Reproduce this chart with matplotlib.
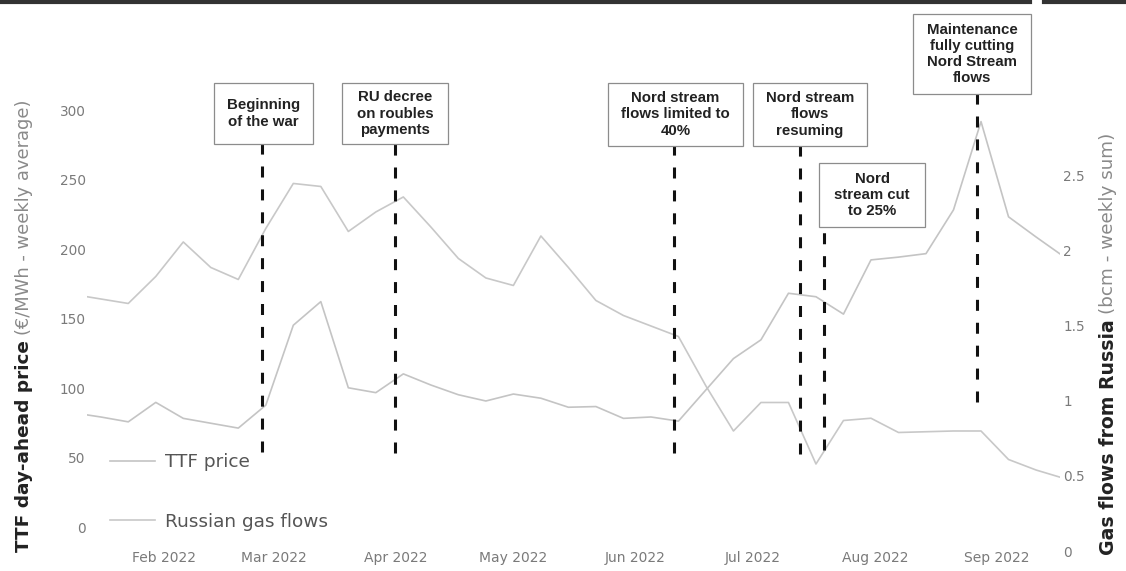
import matplotlib
matplotlib.use("Agg")
import matplotlib.pyplot as plt
import matplotlib.dates as mdates
from matplotlib.lines import Line2D
from matplotlib.patches import Rectangle
import pandas as pd

# weekly series (week ending sundays)
weeks = pd.date_range("2022-01-09", "2022-09-18", freq="7D")

ttf_price = [82.5, 79.5, 76, 90, 78.5, 75, 71.5, 88, 145.5, 162.5, 100.5, 97,
             110.5, 102.5, 95.5, 91, 96, 93, 86.5, 87, 78.5, 79.5, 76.5, 99,
             121.5, 135, 168.5, 166, 153.5, 192.5, 194.5, 197, 228.5, 292,
             223.5, 209, 195]

ru_flows = [1.71, 1.68, 1.65, 1.83, 2.06, 1.89, 1.81, 2.15, 2.45, 2.43, 2.13,
            2.26, 2.36, 2.16, 1.95, 1.82, 1.77, 2.10, 1.89, 1.67, 1.57, 1.50,
            1.43, 1.10, 0.80, 0.99, 0.99, 0.58, 0.87, 0.885, 0.79, 0.795, 0.80,
            0.80, 0.61, 0.54, 0.485]

event_labels = ["Beginning\nof the war",
                "RU decree\non roubles\npayments",
                "Nord stream\nflows limited to\n40%",
                "Nord stream\nflows\nresuming",
                "Nord\nstream cut\nto 25%",
                "Maintenance\nfully cutting\nNord Stream\nflows"]
event_dates = pd.to_datetime(["2022-02-26", "2022-04-01", "2022-06-11",
                              "2022-07-13", "2022-07-19", "2022-08-27"])

left_ticks = [0, 50, 100, 150, 200, 250, 300]
right_ticks = [0, 0.5, 1, 1.5, 2, 2.5]
right_ticklabels = ["0", "0.5", "1", "1.5", "2", "2.5"]

W, H = 1126, 571
fig = plt.figure(figsize=(W / 100, H / 100), dpi=100)


def fx(x):
    return x / W


def fy(y):
    return 1 - y / H


ax = fig.add_axes([fx(87), fy(553), (1060 - 87) / W, (553 - 60) / H])
ax2 = ax.twinx()
ax.set_zorder(ax2.get_zorder() + 1)
ax.patch.set_visible(False)

l1, = ax.plot(weeks, ttf_price, color="#c4c4c4", lw=1.2, label="TTF price")
l2, = ax2.plot(weeks, ru_flows, color="#c8c8c8", lw=1.2, label="Russian gas flows")

start = mdates.date2num(pd.Timestamp("2022-01-16"))
ax.set_xlim(start - 3.5, start + 244.1)
ax.set_ylim(-18.35, 336.3)
ax2.set_ylim(-0.0133, 3.273)

ax.set_yticks(left_ticks)
ax2.set_yticks(right_ticks)
ax2.set_yticklabels(right_ticklabels)
ax.xaxis.set_major_locator(mdates.MonthLocator())
ax.xaxis.set_major_formatter(mdates.DateFormatter("%b %Y"))

for a in (ax, ax2):
    for s in a.spines.values():
        s.set_visible(False)
    a.tick_params(length=0, labelcolor="#7a7a7a", labelsize=9.8)
ax.tick_params(axis="y", pad=1)
ax.tick_params(axis="x", pad=-1.5, labelsize=10)
ax2.tick_params(axis="y", pad=2.5)

# event markers
tops = [275.9, 275.9, 274.5, 274.5, 216.2, 311.9]
bottoms = [54.3, 53.6, 53.6, 52.9, 55.8, 90.3]
ax.vlines(event_dates, bottoms, tops, colors="#111111", lw=2.2,
          linestyles=[(0, (3.6, 3.9))], clip_on=False, zorder=4)

boxes = [(214, 83, 313, 144), (342, 83, 448, 144), (608, 83, 743, 146),
         (753, 83, 867, 146), (819, 163, 925, 227), (913, 14, 1031, 94)]
for (l, t, r, b), txt in zip(boxes, event_labels):
    fig.add_artist(Rectangle((fx(l), fy(b)), (r - l) / W, (b - t) / H,
                             transform=fig.transFigure, facecolor="white",
                             edgecolor="#8c8c8c", lw=0.9, zorder=5))
    fig.text(fx((l + r) / 2), fy((t + b) / 2), txt, ha="center", va="center",
             fontsize=10.8, fontweight="bold", family="Liberation Sans",
             color="#222222", linespacing=1.2, zorder=6)

leg = ax.legend([l1, l2], ["TTF price", "Russian gas flows"], loc="upper left",
                bbox_to_anchor=(fx(110), fy(453)), bbox_transform=fig.transFigure,
                frameon=False, fontsize=13.3, labelcolor="#555555",
                handlelength=2.43, handletextpad=0.54, labelspacing=2.27,
                borderpad=0, borderaxespad=0)

# axis titles: bold part + grey part
renderer = fig.canvas.get_renderer()


def two_part_label(x, y0, bold, rest, size):
    t1 = fig.text(fx(x), fy(y0), bold, rotation=90, ha="center", va="bottom",
                  fontsize=size, fontweight="bold", color="#222222")
    bb = t1.get_window_extent(renderer)
    fig.text(fx(x), (bb.y1 + 5) / H, rest, rotation=90, ha="center",
             va="bottom", fontsize=size - 0.4, color="#8a8a8a")


two_part_label(24, 552, "TTF day-ahead price", "(€/MWh - weekly average)", 13.3)
two_part_label(1108, 555, "Gas flows from Russia", "(bcm - weekly sum)", 13.6)

# dark scan border at the top
fig.add_artist(Line2D([0, fx(1030)], [fy(2), fy(2)], transform=fig.transFigure,
                      color="#333333", lw=3))
fig.add_artist(Line2D([fx(1044), 1], [fy(2), fy(2)], transform=fig.transFigure,
                      color="#333333", lw=3))

fig.savefig("out.png", dpi=100)
